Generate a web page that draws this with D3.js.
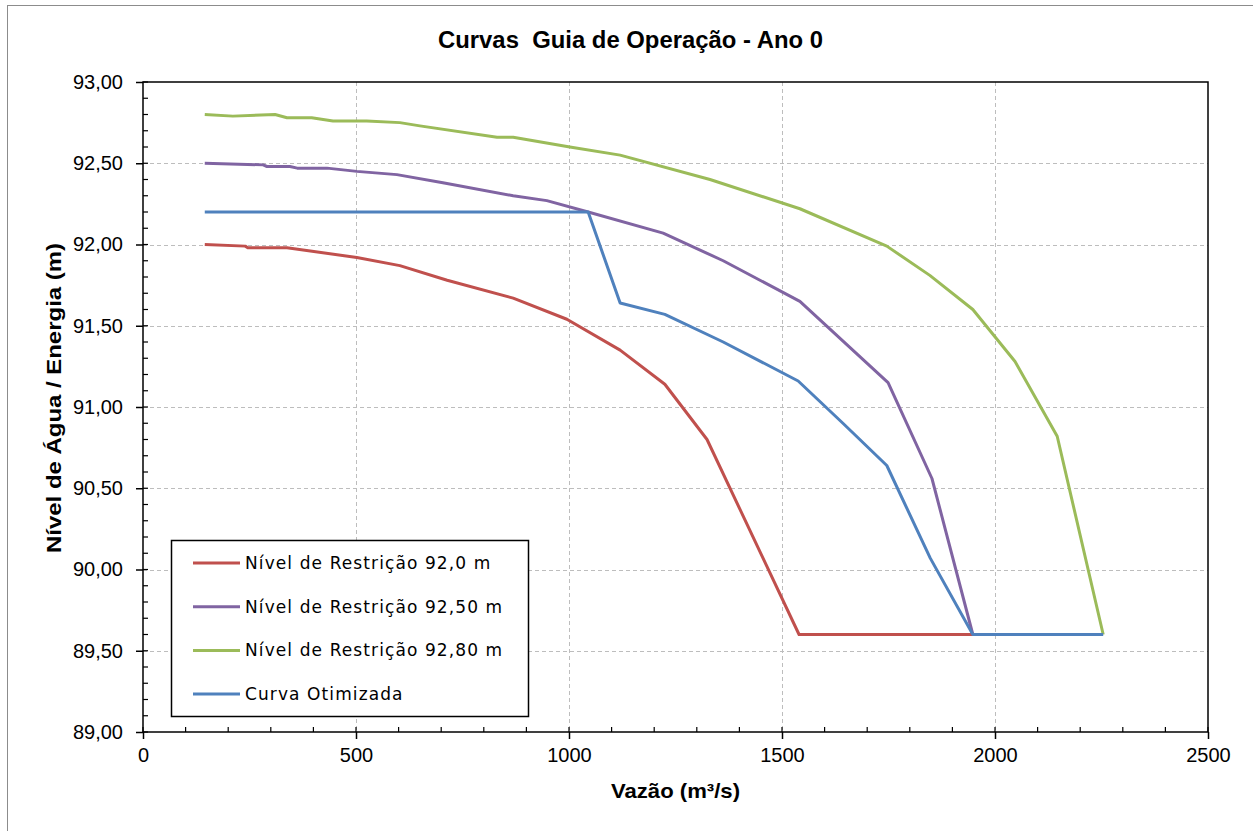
<!DOCTYPE html>
<html lang="pt">
<head>
  <meta charset="UTF-8" />
  <title>Curvas Guia de Operação</title>
  <script src="https://d3js.org/d3.v7.min.js"></script>
  <style>
    body { margin: 0; background: #fff; }
    svg { display: block; }
    text { font-family: "Liberation Sans", Arial, sans-serif; fill: #000; }
  </style>
</head>
<body>
  <script>
    // data (vazao m3/s, nivel m)
    const red = [[145, 92.00], [240, 91.99], [246, 91.98], [338, 91.98], [502, 91.92], [603, 91.87],
      [714, 91.78], [869, 91.67], [995, 91.54], [1120, 91.35], [1225, 91.14], [1324, 90.80],
      [1540, 89.60], [1950, 89.60]];
    const purple = [[145, 92.50], [282, 92.49], [291, 92.48], [345, 92.48], [362, 92.47], [432, 92.47],
      [502, 92.45], [596, 92.43], [704, 92.38], [869, 92.30], [948, 92.27], [1045, 92.20],
      [1221, 92.07], [1362, 91.90], [1542, 91.65], [1749, 91.15], [1852, 90.56], [1948, 89.60]];
    const green = [[145, 92.80], [211, 92.79], [310, 92.80], [338, 92.78], [396, 92.78], [446, 92.76],
      [525, 92.76], [603, 92.75], [650, 92.73], [831, 92.66], [869, 92.66], [1002, 92.60],
      [1120, 92.55], [1331, 92.40], [1542, 92.22], [1746, 91.99], [1847, 91.81], [1948, 91.60],
      [2047, 91.28], [2146, 90.82], [2254, 89.60]];
    const blue = [[145, 92.20], [1045, 92.20], [1120, 91.64], [1225, 91.57], [1362, 91.40],
      [1538, 91.16], [1643, 90.90], [1746, 90.64], [1848, 90.07], [1948, 89.60], [2254, 89.60]];

    const seriesNames = ['Nível de Restrição 92,0 m', 'Nível de Restrição 92,50 m', 'Nível de Restrição 92,80 m', 'Curva Otimizada'];
    const seriesColors = ['#C0504D', '#8064A2', '#9BBB59', '#4F81BD'];
    const seriesData = [red, purple, green, blue];

    const xTicks = [0, 500, 1000, 1500, 2000, 2500];
    const yTicks = [89.0, 89.5, 90.0, 90.5, 91.0, 91.5, 92.0, 92.5, 93.0];

    const W = 1253, H = 831;
    const margin = { top: 82, right: 45, bottom: 99, left: 143 };

    const svg = d3.select('body').append('svg').attr('width', W).attr('height', H);

    // outer chart border
    svg.append('rect').attr('x', 7.5).attr('y', 5.5).attr('width', W + 10).attr('height', H - 4)
      .attr('fill', 'none').attr('stroke', '#8c8c8c').attr('stroke-width', 1);

    const x = d3.scaleLinear().domain([0, 2500]).range([margin.left, W - margin.right]);
    const y = d3.scaleLinear().domain([89, 93]).range([H - margin.bottom, margin.top]);

    // grid
    const grid = svg.append('g').attr('stroke', '#bdbdbd').attr('stroke-dasharray', '4,3').attr('stroke-width', 1);
    grid.selectAll('.gx').data(xTicks.slice(1, -1)).join('line')
      .attr('x1', d => Math.round(x(d)) + 0.5).attr('x2', d => Math.round(x(d)) + 0.5)
      .attr('y1', y(93)).attr('y2', y(89));
    grid.selectAll('.gy').data(yTicks.slice(1, -1)).join('line')
      .attr('y1', d => Math.round(y(d)) + 0.5).attr('y2', d => Math.round(y(d)) + 0.5)
      .attr('x1', x(0)).attr('x2', x(2500));

    // plot frame
    svg.append('rect').attr('x', x(0)).attr('y', y(93)).attr('width', x(2500) - x(0)).attr('height', y(89) - y(93))
      .attr('fill', 'none').attr('stroke', '#000').attr('stroke-width', 1.5);

    // minor ticks (inside)
    const xMinor = d3.range(0, 2501, 100);
    svg.append('g').selectAll('line').data(xMinor).join('line')
      .attr('x1', d => x(d)).attr('x2', d => x(d))
      .attr('y1', y(89)).attr('y2', y(89) - 5)
      .attr('stroke', '#000').attr('stroke-width', 1.2);
    const yMinor = d3.range(0, 41).map(i => 89 + i * 0.1);
    svg.append('g').selectAll('line').data(yMinor).join('line')
      .attr('y1', d => y(d)).attr('y2', d => y(d))
      .attr('x1', x(0)).attr('x2', x(0) + 5)
      .attr('stroke', '#000').attr('stroke-width', 1.2);

    // axes with major ticks crossing outward
    const fmtY = v => d3.format('.2f')(v).replace('.', ',');
    const xAxis = svg.append('g').attr('transform', `translate(0,${y(89)})`)
      .call(d3.axisBottom(x).tickValues(xTicks).tickSize(7).tickPadding(9).tickFormat(d3.format('d')));
    const yAxis = svg.append('g').attr('transform', `translate(${x(0)},0)`)
      .call(d3.axisLeft(y).tickValues(yTicks).tickSize(7).tickPadding(13).tickFormat(fmtY));
    [xAxis, yAxis].forEach(a => {
      a.select('.domain').remove();
      a.selectAll('.tick line').attr('stroke', '#000').attr('stroke-width', 1.5);
      a.selectAll('.tick text').style('font-family', '"Liberation Sans", Arial, sans-serif')
        .style('font-size', '20px').attr('fill', '#000');
    });
    xAxis.selectAll('.tick line').attr('y1', 0).attr('y2', 7);

    // lines
    const line = d3.line().x(d => x(d[0])).y(d => y(d[1]));
    svg.append('g').selectAll('path').data(seriesData).join('path')
      .attr('d', line)
      .attr('fill', 'none')
      .attr('stroke', (d, i) => seriesColors[i])
      .attr('stroke-width', 3)
      .attr('stroke-linejoin', 'round');

    // titles
    svg.append('text').attr('x', 438).attr('y', 48)
      .attr('textLength', 385).attr('lengthAdjust', 'spacingAndGlyphs')
      .style('font-size', '23px').style('font-weight', 'bold').style('white-space', 'pre')
      .text('Curvas  Guia de Operação - Ano 0');
    svg.append('text').attr('x', 611).attr('y', 798)
      .attr('textLength', 129).attr('lengthAdjust', 'spacingAndGlyphs')
      .style('font-size', '21px').style('font-weight', 'bold')
      .text('Vazão (m³/s)');
    svg.append('text').attr('transform', 'translate(61,553) rotate(-90)')
      .attr('textLength', 310).attr('lengthAdjust', 'spacingAndGlyphs')
      .style('font-size', '21px').style('font-weight', 'bold')
      .text('Nível de Água / Energia (m)');

    // legend
    const legend = svg.append('g');
    legend.append('rect').attr('x', 171.5).attr('y', 540.5).attr('width', 357).attr('height', 176)
      .attr('fill', '#fff').attr('stroke', '#000').attr('stroke-width', 1.5);
    const rows = legend.selectAll('g').data(seriesNames).join('g')
      .attr('transform', (d, i) => `translate(0,${563 + i * 43.7})`);
    rows.append('line').attr('x1', 193).attr('x2', 240).attr('y1', 0).attr('y2', 0)
      .attr('stroke', (d, i) => seriesColors[i]).attr('stroke-width', 3);
    rows.append('text').attr('x', 245).attr('y', 6)
      .style('font-family', '"DejaVu Sans", Verdana, sans-serif').style('font-size', '17px')
      .style('letter-spacing', '1.1px')
      .text(d => d);
  </script>
</body>
</html>
